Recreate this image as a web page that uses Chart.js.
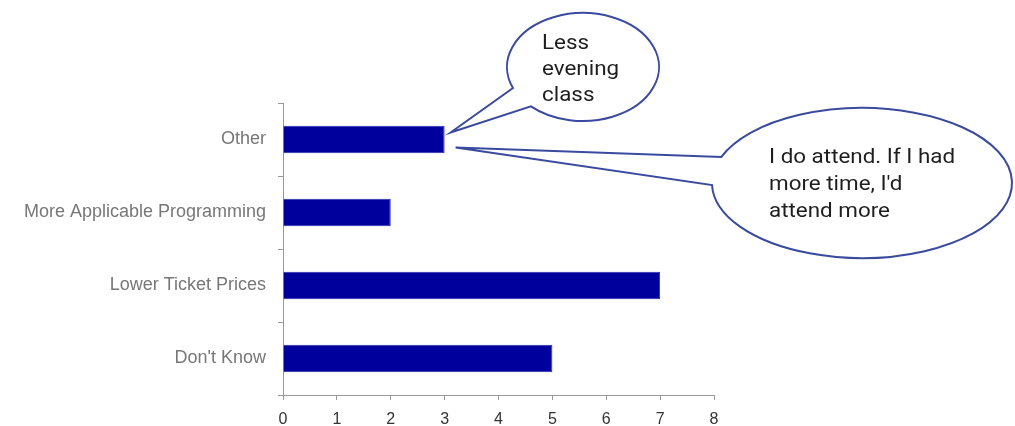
<!DOCTYPE html>
<html>
<head>
<meta charset="utf-8">
<script src="https://cdn.jsdelivr.net/npm/chart.js@4/dist/chart.umd.min.js"></script>
<style>
  html, body { margin: 0; padding: 0; background: #fff; }
  #wrap { width: 1015px; height: 426px; }
</style>
</head>
<body>
<div id="wrap"><canvas id="grafica" width="1015" height="426"></canvas></div>
<script>
const categories = ['Other', 'More Applicable Programming', 'Lower Ticket Prices', "Don't Know"];
const counts = [3, 2, 7, 5];
const xTicks = [0, 1, 2, 3, 4, 5, 6, 7, 8];
const bubbleOne = ['Less', 'evening', 'class'];
const bubbleTwo = ['I do attend. If I had', "more time, I'd", 'attend more'];

// speech bubbles pointing at the end of the "Other" bar
function dibuixaBombolla(ctx, cx, cy, rx, ry, a, b, tip) {
    const ta = Math.atan2((a.y - cy) / ry, (a.x - cx) / rx);
    const tb = Math.atan2((b.y - cy) / ry, (b.x - cx) / rx);
    ctx.beginPath();
    ctx.moveTo(tip.x, tip.y);
    ctx.lineTo(cx + rx * Math.cos(ta), cy + ry * Math.sin(ta));
    ctx.ellipse(cx, cy, rx, ry, 0, ta, tb, false);
    ctx.lineTo(tip.x, tip.y);
    ctx.closePath();
    ctx.fillStyle = '#fff';
    ctx.fill();
    ctx.lineWidth = 2;
    ctx.strokeStyle = '#3a4a9e';
    ctx.stroke();
}

function textEstirat(ctx, t, x, y) {
    ctx.save();
    ctx.translate(x, y);
    ctx.scale(1.12, 1);
    ctx.fillText(t, 0, 0);
    ctx.restore();
}

const bombolles = {
    id: 'bombolles',
    afterDraw(chart) {
        const ctx = chart.ctx;
        const xs = chart.scales.x, ys = chart.scales.y;
        const fi = xs.getPixelForValue(counts[0]);
        const mig = ys.getPixelForValue(0);
        ctx.save();
        dibuixaBombolla(ctx, 583, 67, 76, 54, {x: 513, y: 88}, {x: 530, y: 107}, {x: fi + 6, y: mig - 7});
        dibuixaBombolla(ctx, 862, 183, 150, 75, {x: 722, y: 157}, {x: 712, y: 185}, {x: fi + 11, y: mig + 8});
        ctx.fillStyle = '#1e1e1e';
        ctx.font = '20px Roboto';
        ctx.textBaseline = 'middle';
        ctx.textAlign = 'left';
        bubbleOne.forEach((t, i) => textEstirat(ctx, t, 542, 44 + i * 26));
        bubbleTwo.forEach((t, i) => textEstirat(ctx, t, 769, 158 + i * 27));
        ctx.restore();
    }
};

new Chart(document.getElementById('grafica').getContext('2d'), {
    type: 'bar',
    data: {
        labels: categories,
        datasets: [{
            data: counts,
            backgroundColor: '#00009c',
            borderColor: '#2828b0',
            borderWidth: 1,
            categoryPercentage: 1,
            barPercentage: 0.38
        }]
    },
    options: {
        indexAxis: 'y',
        responsive: false,
        animation: false,
        layout: { padding: { top: 103, right: 301, left: 0, bottom: 0 } },
        plugins: { legend: { display: false }, tooltip: { enabled: false } },
        scales: {
            x: {
                min: xTicks[0],
                max: xTicks[xTicks.length - 1],
                afterBuildTicks: (axis) => { axis.ticks = xTicks.map(v => ({ value: v })); },
                afterFit: (axis) => { axis.height = 31; },
                ticks: { color: '#333', font: { family: 'Liberation Sans', size: 16 }, padding: 10 },
                grid: { drawOnChartArea: false, drawTicks: true, tickLength: 5, color: '#999' },
                border: { color: '#999' }
            },
            y: {
                afterFit: (axis) => { axis.width = 283; },
                ticks: { color: '#777', font: { family: 'Liberation Sans', size: 18 }, padding: 12 },
                grid: { offset: true, drawOnChartArea: false, drawTicks: true, tickLength: 5, color: '#999' },
                border: { color: '#999' }
            }
        }
    },
    plugins: [bombolles]
});
</script>
</body>
</html>
